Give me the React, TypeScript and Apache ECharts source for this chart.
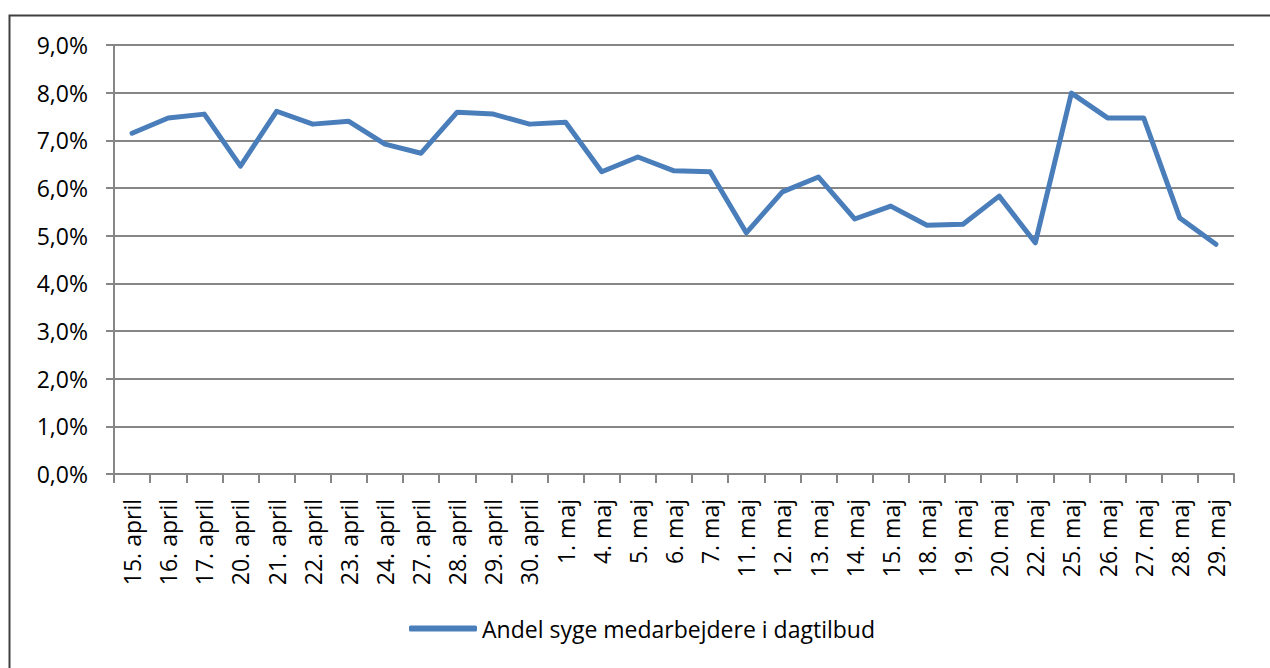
import React, { useEffect, useRef } from "react";
import * as echarts from "echarts";

const categories = [
  "15. april", "16. april", "17. april", "20. april", "21. april", "22. april",
  "23. april", "24. april", "27. april", "28. april", "29. april", "30. april",
  "1. maj", "4. maj", "5. maj", "6. maj", "7. maj", "11. maj", "12. maj",
  "13. maj", "14. maj", "15. maj", "18. maj", "19. maj", "20. maj", "22. maj",
  "25. maj", "26. maj", "27. maj", "28. maj", "29. maj",
];

const sickShare = [
  7.15, 7.47, 7.55, 6.46, 7.61, 7.34, 7.40, 6.92, 6.73, 7.59, 7.55, 7.34,
  7.38, 6.34, 6.65, 6.36, 6.34, 5.06, 5.92, 6.23, 5.35, 5.62, 5.22, 5.24,
  5.83, 4.85, 7.99, 7.47, 7.47, 5.37, 4.82,
];

const seriesName = "Andel syge medarbejdere i dagtilbud";
const FONT = "Open Sans";

export default function App() {
  const ref = useRef<HTMLDivElement>(null);
  useEffect(() => {
    if (!ref.current) return;
    const chart = echarts.init(ref.current, null, { renderer: "svg" });
    chart.setOption({
      animation: false,
      backgroundColor: "#ffffff",
      textStyle: { fontFamily: FONT, color: "#000" },
      graphic: [
        {
          type: "rect",
          shape: { x: 9.5, y: 15.5, width: 1300, height: 700 },
          style: { fill: "none", stroke: "#404040", lineWidth: 2 },
          silent: true,
        },
      ],
      grid: { left: 114, right: 36, top: 45, bottom: 194, containLabel: false },
      legend: {
        data: [seriesName],
        left: 404,
        top: 612,
        icon: "roundRect",
        itemWidth: 68,
        itemHeight: 6,
        itemGap: 8,
        textStyle: { fontFamily: FONT, fontSize: 23, color: "#000" },
      },
      xAxis: {
        type: "category",
        data: categories,
        boundaryGap: true,
        axisLine: { show: true, lineStyle: { color: "#868686", width: 2 } },
        axisTick: { show: true, length: 9, alignWithLabel: false, lineStyle: { color: "#868686", width: 2 } },
        axisLabel: {
          rotate: 90,
          interval: 0,
          margin: 25,
          fontFamily: FONT,
          fontSize: 23,
          color: "#000",
        },
      },
      yAxis: {
        type: "value",
        min: 0,
        max: 9,
        interval: 1,
        axisLine: { show: true, lineStyle: { color: "#868686", width: 2 } },
        axisTick: { show: true, length: 8, lineStyle: { color: "#868686", width: 2 } },
        splitLine: { show: true, lineStyle: { color: "#868686", width: 2 } },
        axisLabel: {
          fontFamily: FONT,
          fontSize: 23,
          color: "#000",
          margin: 26,
          formatter: (v: number) => v.toFixed(1).replace(".", ",") + "%",
        },
      },
      series: [
        {
          name: seriesName,
          type: "line",
          data: sickShare,
          symbol: "none",
          color: "#4a7ebb",
          lineStyle: { color: "#4a7ebb", width: 5, join: "round", cap: "round" },
        },
      ],
    });
    return () => chart.dispose();
  }, []);
  return (
    <div
      ref={ref}
      style={{ position: "fixed", left: 0, top: 0, width: 1270, height: 668, background: "#fff" }}
    />
  );
}
